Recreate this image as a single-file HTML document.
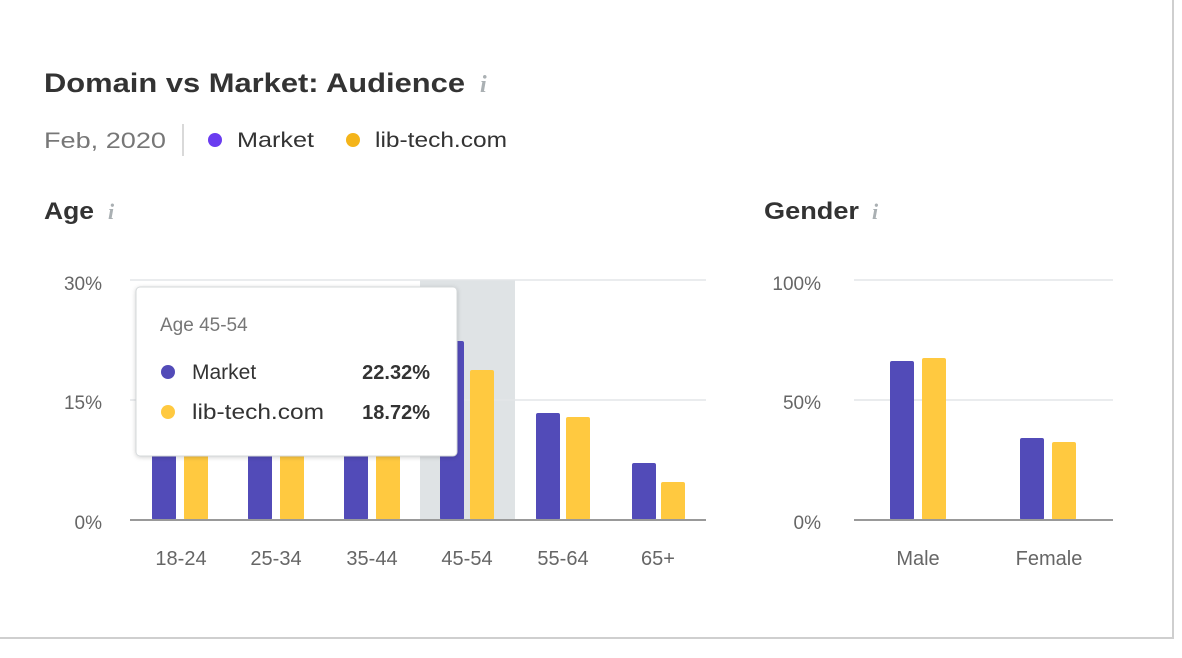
<!DOCTYPE html>
<html><head><meta charset="utf-8"><style>
html,body{margin:0;padding:0;background:#fff;}
svg{display:block;font-family:"Liberation Sans",sans-serif;}
</style></head><body>
<svg width="1182" height="658" viewBox="0 0 1182 658">
<defs><filter id="sh" x="-10%" y="-10%" width="120%" height="130%"><feDropShadow dx="0" dy="1" stdDeviation="2" flood-color="#000" flood-opacity="0.18"/></filter></defs>
<rect x="0" y="0" width="1182" height="658" fill="#fff"/>
<line x1="1173" y1="0" x2="1173" y2="639" stroke="#cfcfcf" stroke-width="2"/>
<line x1="0" y1="638" x2="1174" y2="638" stroke="#cfcfcf" stroke-width="2"/>

<text x="44" y="92" font-size="27" font-weight="bold" fill="#333" textLength="421" lengthAdjust="spacingAndGlyphs">Domain vs Market: Audience</text>
<text x="480" y="92" font-size="24" font-style="italic" font-weight="bold" fill="#aab0b3" font-family="Liberation Serif,serif">i</text>

<text x="44" y="148" font-size="22" fill="#777" textLength="122" lengthAdjust="spacingAndGlyphs">Feb, 2020</text>
<line x1="183" y1="124" x2="183" y2="156" stroke="#ccc" stroke-width="1.5"/>
<circle cx="215" cy="140" r="7" fill="#6a3cf0"/>
<text x="237" y="147" font-size="21" fill="#333" textLength="77" lengthAdjust="spacingAndGlyphs">Market</text>
<circle cx="353" cy="140" r="7" fill="#f4b41a"/>
<text x="375" y="147" font-size="21" fill="#333" textLength="132" lengthAdjust="spacingAndGlyphs">lib-tech.com</text>

<text x="44" y="219" font-size="24" font-weight="bold" fill="#333" textLength="50" lengthAdjust="spacingAndGlyphs">Age</text>
<text x="108" y="219" font-size="22" font-style="italic" font-weight="bold" fill="#aab0b3" font-family="Liberation Serif,serif">i</text>
<text x="764" y="219" font-size="24" font-weight="bold" fill="#333" textLength="95" lengthAdjust="spacingAndGlyphs">Gender</text>
<text x="872" y="219" font-size="22" font-style="italic" font-weight="bold" fill="#aab0b3" font-family="Liberation Serif,serif">i</text>

<!-- Age chart -->
<rect x="420" y="280" width="95" height="240" fill="#dfe3e5"/>
<g stroke="#e3e6e8" stroke-width="1.5"><line x1="130" y1="280" x2="706" y2="280"/><line x1="130" y1="400" x2="706" y2="400"/></g>
<g font-size="19" fill="#666" text-anchor="end"><text x="102" y="290">30%</text><text x="102" y="409">15%</text><text x="102" y="529">0%</text></g>
<g fill="#524bb8">
<rect x="152" y="380" width="24" height="140" rx="2"/>
<rect x="248" y="380" width="24" height="140" rx="2"/>
<rect x="344" y="380" width="24" height="140" rx="2"/>
<rect x="440" y="341" width="24" height="179" rx="2"/>
<rect x="536" y="413" width="24" height="107" rx="2"/>
<rect x="632" y="463" width="24" height="57" rx="2"/>
</g>
<g fill="#ffc940">
<rect x="184" y="390" width="24" height="130" rx="2"/>
<rect x="280" y="390" width="24" height="130" rx="2"/>
<rect x="376" y="390" width="24" height="130" rx="2"/>
<rect x="470" y="370" width="24" height="150" rx="2"/>
<rect x="566" y="417" width="24" height="103" rx="2"/>
<rect x="661" y="482" width="24" height="38" rx="2"/>
</g>
<line x1="130" y1="520" x2="706" y2="520" stroke="#999" stroke-width="2"/>
<g font-size="20" fill="#666" text-anchor="middle">
<text x="181" y="565">18-24</text><text x="276" y="565">25-34</text><text x="372" y="565">35-44</text><text x="467" y="565">45-54</text><text x="563" y="565">55-64</text><text x="658" y="565">65+</text>
</g>

<!-- Tooltip -->
<rect x="136" y="287" width="321" height="169" rx="4" fill="#fff" stroke="#d4d8da" filter="url(#sh)"/>
<text x="160" y="331" font-size="19" fill="#777">Age 45-54</text>
<circle cx="168" cy="372" r="7" fill="#524bb8"/>
<text x="192" y="379" font-size="21" fill="#333">Market</text>
<text x="430" y="379" font-size="20" font-weight="bold" fill="#333" text-anchor="end">22.32%</text>
<circle cx="168" cy="412" r="7" fill="#ffc940"/>
<text x="192" y="419" font-size="21" fill="#333" textLength="132" lengthAdjust="spacingAndGlyphs">lib-tech.com</text>
<text x="430" y="419" font-size="20" font-weight="bold" fill="#333" text-anchor="end">18.72%</text>

<!-- Gender chart -->
<g stroke="#e3e6e8" stroke-width="1.5"><line x1="854" y1="280" x2="1113" y2="280"/><line x1="854" y1="400" x2="1113" y2="400"/></g>
<g font-size="19" fill="#666" text-anchor="end"><text x="821" y="290">100%</text><text x="821" y="409">50%</text><text x="821" y="529">0%</text></g>
<rect x="890" y="361" width="24" height="159" rx="2" fill="#524bb8"/>
<rect x="922" y="358" width="24" height="162" rx="2" fill="#ffc940"/>
<rect x="1020" y="438" width="24" height="82" rx="2" fill="#524bb8"/>
<rect x="1052" y="442" width="24" height="78" rx="2" fill="#ffc940"/>
<line x1="854" y1="520" x2="1113" y2="520" stroke="#999" stroke-width="2"/>
<g font-size="20" fill="#666" text-anchor="middle"><text x="918" y="565">Male</text><text x="1049" y="565">Female</text></g>
</svg>
</body></html>
